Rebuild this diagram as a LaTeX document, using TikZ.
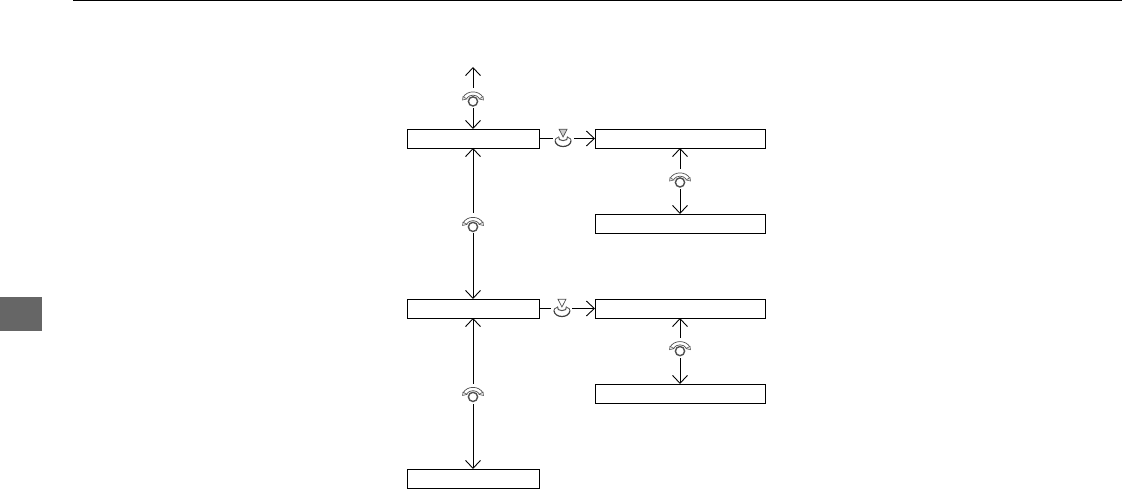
\documentclass[tikz,border=0pt]{standalone}
\usepackage{xcolor}
\usetikzlibrary{arrows.meta, positioning}
\definecolor{tabgray}{RGB}{102,102,102}
\definecolor{icongray}{RGB}{80,80,80}
\definecolor{iconpale}{RGB}{205,205,205}
\newcommand{\knobicon}{%
  \draw[-, line width=1.4pt, icongray] (0,-3.4) circle (4.6);
  \draw[-, line width=0.7pt, icongray] (-10,0.5) .. controls (-6,8) and (6,8) .. (10,0.5);
  \draw[-, line width=0.7pt, icongray] (-6.5,-0.5) .. controls (-3.5,4) and (3.5,4) .. (6.5,-0.5);
  \draw[-, line width=0.5pt, icongray, fill=iconpale!60] (-10.5,-2) -- (-6,-1) -- (-10,1.5) -- cycle;
  \draw[-, line width=0.5pt, icongray, fill=iconpale!60] (10.5,-2) -- (6,-1) -- (10,1.5) -- cycle;
}
\newcommand{\pushicon}[1]{%
  \draw[-, line width=0.7pt, icongray, fill=#1] (-4,9.3) -- (4,9.3) -- (0,1.5) -- cycle;
  \draw[-, line width=1pt, icongray] (-4.5,2) .. controls (-6.5,-3.5) and (6.5,-3.5) .. (4.5,2);
  \draw[-, line width=1.2pt, black!75] (-8,-2) .. controls (-7.5,-10) and (7.5,-10) .. (8,-2);
  \draw[-, line width=0.8pt, icongray] (-8,-2) .. controls (-7.5,0) .. (-5,1);
  \draw[-, line width=0.8pt, icongray] (8,-2) .. controls (7.5,0) .. (5,1);
}
\begin{document}
\begin{tikzpicture}[
    x=1pt, y=1pt,
    node distance=66pt and 56pt,
    menubox/.style={draw, line width=0.9pt, outer sep=0pt, inner sep=0pt,
                    minimum width=132pt, minimum height=19pt},
    subbox/.style={menubox, minimum width=170pt},
    arrow/.style={-{Straight Barb[length=8pt,width=15pt]}, line width=0.9pt},
    twoway/.style={{Straight Barb[length=8pt,width=15pt]}-{Straight Barb[length=8pt,width=15pt]},
                   line width=0.9pt},
    knob/.style={inner sep=0pt, outer sep=0pt, fill=white, minimum width=22pt,
                 minimum height=20pt, path picture={
                   \begin{scope}[shift={(path picture bounding box.center)}]\knobicon\end{scope}}},
    pushup/.style={inner sep=0pt, outer sep=0pt, fill=white, minimum width=21pt,
                 minimum height=20pt, path picture={
                   \begin{scope}[shift={(path picture bounding box.center)}]\pushicon{iconpale}\end{scope}}},
    pushdown/.style={pushup, path picture={
                   \begin{scope}[shift={(path picture bounding box.center)}]\pushicon{white}\end{scope}}},
]
\useasboundingbox (0,0) rectangle (1122,-489);

% page furniture
\coordinate (rulestart) at (73,-0.7);
\coordinate (ruleend) at (1122,-0.7);
\draw[line width=1.3pt] (rulestart) -- (ruleend);
\node[fill=tabgray, minimum width=42pt, minimum height=34pt, inner sep=0pt, outer sep=0pt]
      (tab) at (21,-314) {};

% left column
\node[menubox] (menuA) at (473,-138.5) {};
\node[menubox, below=151pt of menuA] (menuB) {};
\node[menubox, below=151pt of menuB] (menuC) {};

% right column
\node[subbox, right=56pt of menuA] (subA) {};
\node[subbox, below=of subA]       (subB) {};
\node[subbox, right=56pt of menuB] (subC) {};
\node[subbox, below=of subC]       (subD) {};

\coordinate[above=62pt of menuA.north] (topend);

% knob arrows
\draw[twoway] (topend) -- node[knob] (knobA) {} (menuA.north);
\draw[twoway] (menuA.south) -- node[knob] (knobB) {} (menuB.north);
\draw[twoway] (menuB.south) -- node[knob] (knobC) {} (menuC.north);
\draw[twoway] (subA.south) -- node[knob, pos=0.47] (knobD) {} (subB.north);
\draw[twoway] (subC.south) -- node[knob, pos=0.45] (knobE) {} (subD.north);

% push arrows
\draw[arrow] (menuA.east) -- node[pushup, pos=0.43] (pushA) {} (subA.west);
\draw[arrow] (menuB.east) -- node[pushdown, pos=0.41] (pushB) {} (subC.west);

\end{tikzpicture}
\end{document}
